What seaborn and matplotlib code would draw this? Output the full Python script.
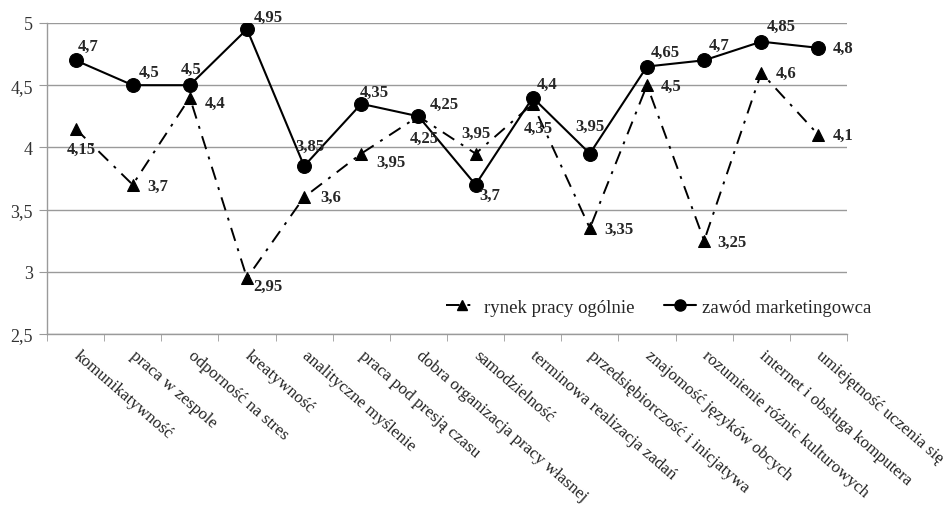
import numpy as np
import pandas as pd
import matplotlib
matplotlib.use("Agg")
import matplotlib.pyplot as plt
from matplotlib.ticker import FixedLocator, FuncFormatter
from matplotlib.lines import Line2D
import seaborn as sns

categories = ["komunikatywność", "praca w zespole", "odporność na stres", "kreatywność",
              "analityczne myślenie", "praca pod presją czasu", "dobra organizacja pracy własnej",
              "samodzielność", "terminowa realizacja zadań", "przedsiębiorczość i inicjatywa",
              "znajomość języków obcych", "rozumienie różnic kulturowych",
              "internet i obsługa komputera", "umiejętność uczenia się"]
rynek = [4.15, 3.7, 4.4, 2.95, 3.6, 3.95, 4.25, 3.95, 4.35, 3.35, 4.5, 3.25, 4.6, 4.1]
zawod = [4.7, 4.5, 4.5, 4.95, 3.85, 4.35, 4.25, 3.7, 4.4, 3.95, 4.65, 4.7, 4.85, 4.8]
series_names = ["rynek pracy ogólnie", "zawód marketingowca"]

# label offsets in pixels (label centre relative to point)
off_rynek = [(6, -20), (25, -1), (25, -5), (21, -8), (27, 0), (30, -8), (6, -22),
             (0, 21), (6, -24), (29, -1), (24, -1), (28, -1), (25, 0), (25, 0)]
off_zawod = [(13, 14), (16, 13), (1, 16), (21, 12), (6, 20), (13, 12), (26, 12),
             (14, -10), (14, 14), (0, 28), (18, 15), (15, 15), (20, 16), (25, 0)]

df = pd.DataFrame({"kategoria": categories * 2,
                   "ocena": rynek + zawod,
                   "seria": [series_names[0]] * len(categories) + [series_names[1]] * len(categories)})

sns.set_style("white")
plt.rcParams["font.family"] = ["Liberation Serif", "DejaVu Serif"]

fig = plt.figure(figsize=(9.45, 5.06), dpi=100)
ax = fig.add_axes([0.0497, 0.338, 0.8466, 0.6146])

dash_dot = (0, (7, 4, 1.5, 4))
sns.lineplot(data=df[df.seria == series_names[0]], x="kategoria", y="ocena", sort=False,
             color="black", linestyle=dash_dot, linewidth=1.4, marker="^", markersize=9,
             markeredgecolor="black", ax=ax, zorder=3)
sns.lineplot(data=df[df.seria == series_names[1]], x="kategoria", y="ocena", sort=False,
             color="black", linestyle="-", linewidth=1.5, marker="o", markersize=10,
             markeredgecolor="black", ax=ax, zorder=4)

fmt = lambda v: f"{v:g}".replace(".", ",")
for i, (a, b) in enumerate(zip(rynek, zawod)):
    ax.annotate(fmt(a), (i, a), xytext=off_rynek[i], textcoords="offset pixels",
                ha="center", va="center", fontsize=12, fontweight="bold", zorder=5)
    ax.annotate(fmt(b), (i, b), xytext=off_zawod[i], textcoords="offset pixels",
                ha="center", va="center", fontsize=12, fontweight="bold", zorder=5)

ax.set_xlim(-0.5, len(categories) - 0.5)
ax.set_ylim(2.5, 5)
ax.set_yticks(np.arange(2.5, 5.01, 0.5))
ax.yaxis.set_major_formatter(FuncFormatter(lambda v, p: fmt(round(v, 2))))
ax.grid(axis="y", color="#9a9a9a", linewidth=1)
ax.set_axisbelow(True)
ax.set_xlabel("")
ax.set_ylabel("")

for s in ["top", "right"]:
    ax.spines[s].set_visible(False)
for s in ["left", "bottom"]:
    ax.spines[s].set_color("#9a9a9a")
    ax.spines[s].set_linewidth(1)

ax.xaxis.set_minor_locator(FixedLocator(np.arange(-0.5, len(categories), 1)))
ax.tick_params(axis="x", which="major", length=0, pad=14, labelcolor="#222222")
ax.tick_params(axis="x", which="minor", length=5, color="#9a9a9a", direction="out", bottom=True)
ax.tick_params(axis="y", length=6, color="#9a9a9a", direction="out", left=True, labelsize=13,
               pad=4, labelcolor="#333333")
ax.set_xticks(range(len(categories)))
ax.set_xticklabels(categories, rotation=-41, ha="left", va="center", rotation_mode="anchor",
                   fontsize=12.3)

handles = [Line2D([], [], color="black", linestyle=dash_dot, linewidth=1.4, marker="^", markersize=7),
           Line2D([], [], color="black", linestyle="-", linewidth=1.5, marker="o", markersize=8)]
fig.legend(handles, series_names, loc="center", bbox_to_anchor=(0.697, 0.391), ncol=2,
           frameon=False, fontsize=13.5, handlelength=1.7, handletextpad=0.3, columnspacing=1.6)

fig.savefig("out.png", dpi=100)
